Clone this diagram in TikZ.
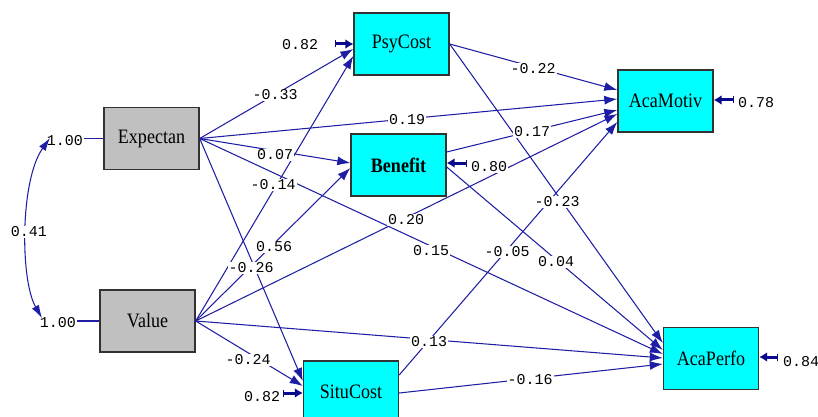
\documentclass[tikz,border=0pt]{standalone}
\usepackage{fontspec}
\setmainfont{Liberation Serif}
\newfontfamily\monofont{Liberation Mono}
\usetikzlibrary{arrows.meta}

\definecolor{pathblue}{RGB}{30,30,165}
\definecolor{headblue}{RGB}{10,10,140}
\definecolor{boxedge}{RGB}{50,50,50}
\definecolor{obsgray}{RGB}{192,192,192}
\definecolor{latcyan}{RGB}{0,255,255}

\newcommand\vname[1]{\scalebox{0.88}[1]{#1}}

\tikzset{
  var/.style={draw=boxedge, line width=1.4pt, minimum width=95pt,
    minimum height=62pt, inner sep=0pt, font=\fontsize{20.5}{22}\selectfont},
  exo/.style={var, fill=obsgray},
  endo/.style={var, fill=latcyan},
  link/.style={draw=pathblue, line width=1.05pt,
    -{Latex[length=13pt,width=9pt]}},
  resid/.style={draw=headblue, line width=3pt,
    {Bar[width=7pt,line width=1.3pt]}-{Latex[length=8pt,width=10pt]}},
  corr/.style={draw=pathblue, line width=1.05pt,
    {Latex[length=13pt,width=8pt]}-{Latex[length=13pt,width=8pt]}},
  coef/.style={fill=white, inner sep=1pt, text=black,
    font=\monofont\fontsize{15}{15}\selectfont},
  varlab/.style={inner sep=1pt, text=black,
    font=\monofont\fontsize{15}{15}\selectfont},
}

\begin{document}
\begin{tikzpicture}[x=1pt,y=-1pt]
\useasboundingbox (0,0) rectangle (818,417);
\clip (0,0) rectangle (818,417);
\fill[white] (0,0) rectangle (818,417);

% variables
\node[exo]  (exp)  at (151.5,138.5) {\vname{Expectan}};
\node[exo]  (val)  at (147.5,321)   {\vname{Value}};
\node[endo] (psy)  at (401.5,44)    {\vname{PsyCost}};
\node[endo] (ben)  at (398.5,165)   {\vname{\textbf{Benefit}}};
\node[endo] (situ) at (351,392)     {\vname{SituCost}};
\node[endo] (acam) at (665.5,101)   {\vname{AcaMotiv}};
\node[endo] (acap) at (711,358.5)   {\vname{AcaPerfo}};

% variances of the exogenous variables and their covariance
\node[varlab] (vexp) at (65,141) {1.00};
\node[varlab] (vval) at (58,323) {1.00};
\draw[pathblue, line width=1.05pt] (vexp.east |- exp.west) -- (exp.west);
\draw[pathblue, line width=1.05pt] (vval.east |- val.west) -- (val.west);
\coordinate (ctop) at (50,138);
\coordinate (cbot) at (42,318);
\draw[corr] (ctop) .. controls (20,180) and (20,280) .. (cbot);
\node[coef] (c41) at (29,232) {0.41};

% structural paths
\draw[link] (exp.east) -- ([yshift=-5pt]psy.west);
\draw[link] (val.east) -- ([yshift=-12pt]psy.west);
\draw[link] (exp.east) -- ([yshift=2pt]ben.west);
\draw[link] (val.east) -- ([yshift=-3pt]ben.west);
\draw[link] (exp.east) -- ([yshift=11pt]situ.west);
\draw[link] (val.east) -- ([yshift=6pt]situ.west);
\draw[link] (psy.east) -- ([yshift=11pt]acam.west);
\draw[link] (exp.east) -- ([yshift=2pt]acam.west);
\draw[link] ([yshift=13pt]ben.east) -- ([yshift=-9pt]acam.west);
\draw[link] (val.east) -- ([yshift=-13pt]acam.west);
\draw[link] ([yshift=17pt]situ.east) -- ([yshift=-21pt]acam.west);
\draw[link] (psy.east) -- ([yshift=15.5pt]acap.west);
\draw[link] ([yshift=-2pt]ben.east) -- ([yshift=8.5pt]acap.west);
\draw[link] (exp.east) -- ([yshift=4.5pt]acap.west);
\draw[link] (val.east) -- ([yshift=0.5pt]acap.west);
\draw[link] ([yshift=-1pt]situ.east) -- ([yshift=-5.5pt]acap.west);

% error terms
\coordinate (epsy)  at (335,44);
\coordinate (eben)  at (467,163);
\coordinate (esitu) at (283,393);
\coordinate (eacam) at (734,100);
\coordinate (eacap) at (778,357);
\draw[resid] (epsy)  -- (epsy -| psy.west);
\draw[resid] (eben)  -- (eben -| ben.east);
\draw[resid] (esitu) -- (esitu -| situ.west);
\draw[resid] (eacam) -- (eacam -| acam.east);
\draw[resid] (eacap) -- (eacap -| acap.east);
\node[coef] (rpsy)  at (300,45)  {0.82};
\node[coef] (rben)  at (489,167) {0.80};
\node[coef] (rsitu) at (262,397) {0.82};
\node[coef] (racam) at (756,103) {0.78};
\node[coef] (racap) at (801,362) {0.84};

% path coefficients
\node[coef] (k1)  at (275,95)  {-0.33};
\node[coef] (k2)  at (273,185) {-0.14};
\node[coef] (k3)  at (275,155) {0.07};
\node[coef] (k4)  at (274,247) {0.56};
\node[coef] (k5)  at (251,268) {-0.26};
\node[coef] (k6)  at (248,360) {-0.24};
\node[coef] (k7)  at (533,69)  {-0.22};
\node[coef] (k8)  at (407,120) {0.19};
\node[coef] (k9)  at (532,132) {0.17};
\node[coef] (k10) at (406,220) {0.20};
\node[coef] (k11) at (507,252) {-0.05};
\node[coef] (k12) at (557,202) {-0.23};
\node[coef] (k13) at (556,262) {0.04};
\node[coef] (k14) at (431,251) {0.15};
\node[coef] (k15) at (429,342) {0.13};
\node[coef] (k16) at (530,380) {-0.16};
\end{tikzpicture}
\end{document}
